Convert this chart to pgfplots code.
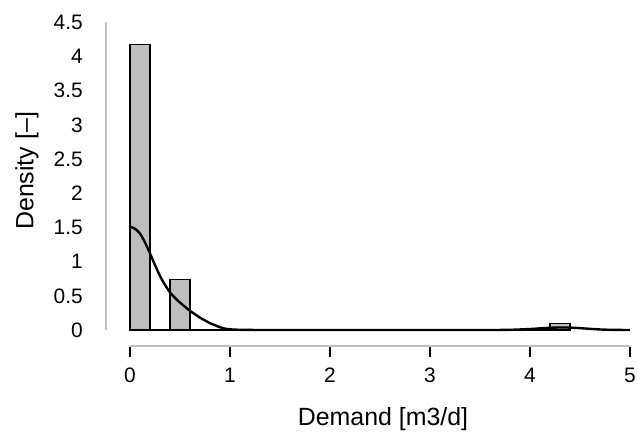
\documentclass[border=0pt]{standalone}
\usepackage{pgfplots}
\pgfplotsset{compat=1.18}
\usepackage{fontspec}
\setmainfont{Liberation Sans}
\definecolor{barfill}{RGB}{190,190,190}
\definecolor{axgray}{RGB}{192,192,192}
\begin{document}
\begin{tikzpicture}
\useasboundingbox (-130bp,-107bp) rectangle (508bp,330bp);
\begin{axis}[
  scale only axis,
  width=500bp, height=307.8bp,
  xmin=0, xmax=5, ymin=0, ymax=4.5,
  clip=false,
  axis line style={draw=none},
  xtick={0,1,2,3,4,5},
  ytick={0,0.5,1,1.5,2,2.5,3,3.5,4,4.5},
  /pgf/number format/assume math mode=true,
  every tick label/.append style={font=\fontsize{21}{25}\selectfont, inner sep=0pt},
  major tick length=0pt,
  xticklabel style={anchor=center, yshift=-45.5bp},
  yticklabel style={anchor=east, xshift=-47bp},
  label style={font=\fontsize{25}{30}\selectfont},
  xlabel={Demand [m3/d]},
  ylabel={Density [–]},
  xlabel style={at={(axis description cs:0.506,-0.289)}, anchor=center},
  ylabel style={at={(axis description cs:-0.206,0.517)}, anchor=center},
]
\addplot[ybar interval, fill=barfill, draw=black, line width=1.2bp] coordinates {
 (0,4.17) (0.2,0) (0.4,0.74) (0.6,0) (0.8,0) (1.0,0) (1.2,0) (1.4,0) (1.6,0) (1.8,0)
 (2.0,0) (2.2,0) (2.4,0) (2.6,0) (2.8,0) (3.0,0) (3.2,0) (3.4,0) (3.6,0) (3.8,0)
 (4.0,0) (4.2,0.1) (4.4,0)
};
\addplot[black, line width=2.4bp, smooth, tension=0.5] coordinates {
 (0,1.51) (0.05,1.48) (0.1,1.41) (0.15,1.28) (0.2,1.12) (0.25,0.95) (0.3,0.79)
 (0.35,0.66) (0.4,0.55) (0.45,0.47) (0.5,0.40) (0.55,0.34) (0.6,0.28) (0.65,0.23)
 (0.7,0.18) (0.75,0.14) (0.8,0.10) (0.85,0.07) (0.9,0.04) (0.95,0.02) (1.0,0.01)
 (1.1,0.003) (1.2,0.001) (1.4,0) (2.0,0) (3.0,0) (3.6,0) (3.8,0.003) (4.0,0.014)
 (4.1,0.024) (4.2,0.032) (4.3,0.037) (4.4,0.035) (4.5,0.027) (4.6,0.017)
 (4.7,0.008) (4.8,0.003) (4.9,0.001) (5.0,0)
};
\draw[axgray, line width=1.5bp] ([xshift=-24bp]axis cs:0,0) -- ([xshift=-24bp]axis cs:0,4.5);
\draw[axgray, line width=1.5bp] ([yshift=-16bp]axis cs:0,0) -- ([yshift=-16bp]axis cs:5,0);
\pgfplotsinvokeforeach{0,1,2,3,4,5}{
  \draw[black, line width=1.5bp] ([yshift=-16.5bp]axis cs:#1,0) -- ([yshift=-26.5bp]axis cs:#1,0);
}
\end{axis}
\end{tikzpicture}
\end{document}
